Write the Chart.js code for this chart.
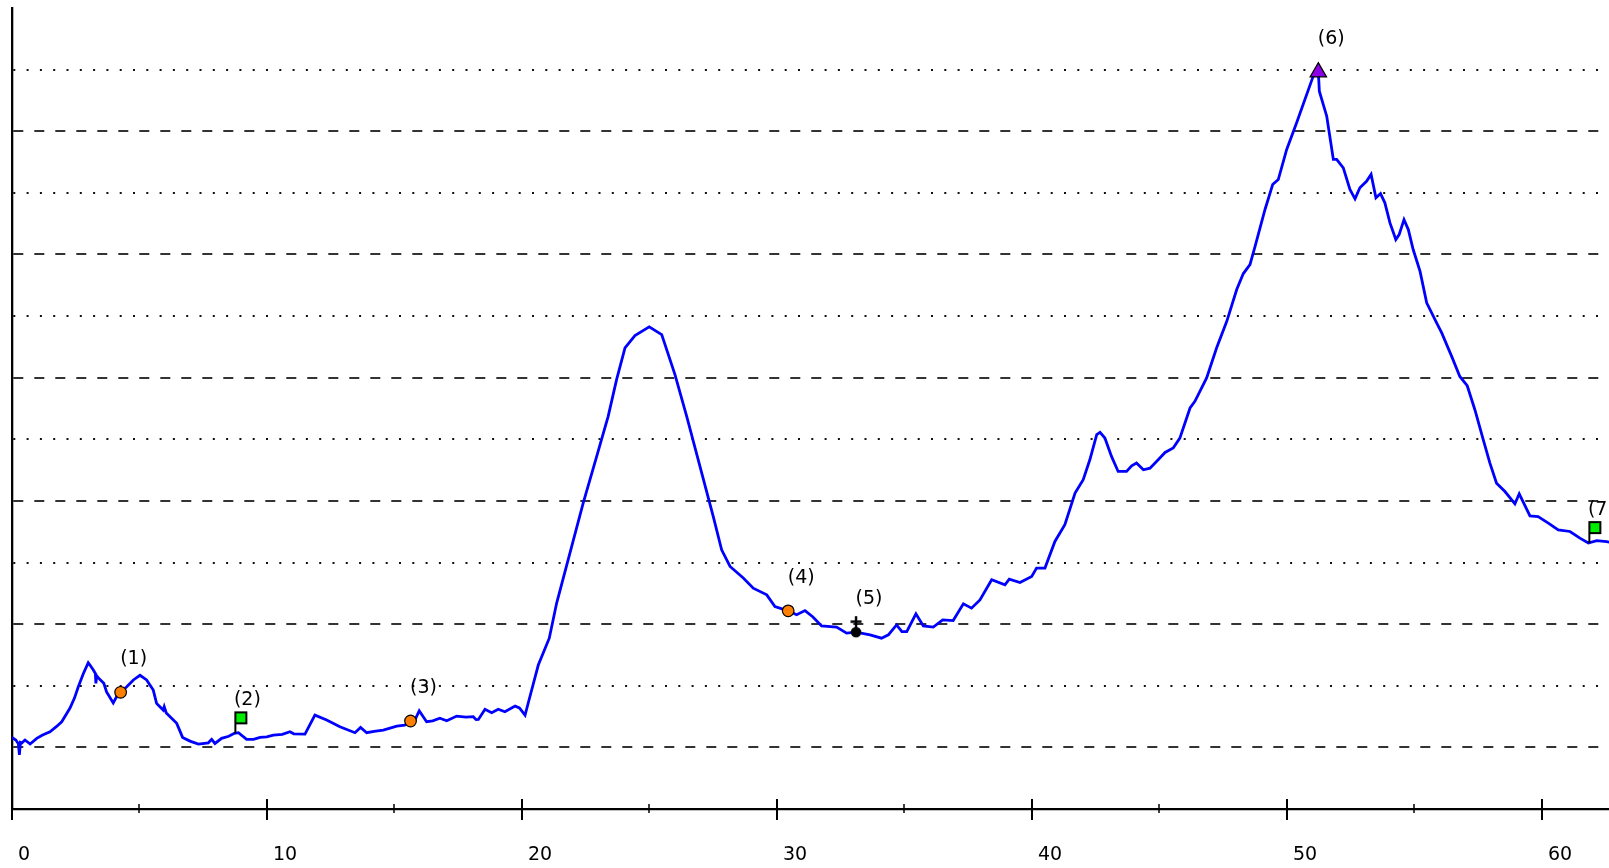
<!DOCTYPE html>
<html>
<head>
<meta charset="utf-8">
<script src="https://cdn.jsdelivr.net/npm/chart.js@4.4.1/dist/chart.umd.min.js"></script>
<style>
  html, body { margin: 0; padding: 0; background: #fff; }
  canvas { display: block; }
</style>
</head>
<body>
<canvas id="profile" width="1609" height="868"></canvas>
<script>
// profile: distance / elevation
const distKm = [
  0.00, 0.15, 0.25, 0.29, 0.33, 0.38, 0.51, 0.71, 0.97, 1.20, 1.49, 1.75, 1.95, 2.27, 2.45, 2.60,
  2.80, 2.99, 3.05, 3.19, 3.27, 3.29, 3.32, 3.45, 3.60, 3.71, 3.97, 4.10, 4.26, 4.50, 4.76, 5.02,
  5.28, 5.54, 5.67, 5.80, 5.93, 5.97, 6.05, 6.46, 6.69, 6.98, 7.31, 7.70, 7.83, 7.96, 8.22, 8.50,
  8.72, 8.88, 9.20, 9.47, 9.73, 9.99, 10.25, 10.60, 10.90, 11.05, 11.49, 11.88, 12.34, 12.86, 13.45, 13.67,
  13.91, 14.20, 14.56, 15.09, 15.40, 15.63, 15.80, 15.97, 16.26, 16.50, 16.78, 17.05, 17.44, 17.80, 18.09, 18.20,
  18.29, 18.55, 18.81, 19.07, 19.33, 19.73, 19.90, 20.12, 20.31, 20.64, 21.07, 21.36, 21.88, 22.40, 22.93, 23.38,
  23.71, 24.04, 24.43, 24.99, 25.48, 26.00, 26.46, 26.98, 27.50, 27.83, 28.16, 28.68, 29.07, 29.60, 29.92, 30.44,
  30.77, 31.10, 31.40, 31.75, 32.34, 32.73, 33.10, 33.65, 34.10, 34.37, 34.69, 34.90, 35.09, 35.45, 35.74, 36.13,
  36.50, 36.91, 37.31, 37.63, 37.96, 38.42, 38.94, 39.11, 39.53, 39.99, 40.18, 40.51, 40.90, 41.29, 41.69, 42.01,
  42.27, 42.54, 42.67, 42.86, 43.12, 43.38, 43.71, 43.91, 44.10, 44.37, 44.63, 44.95, 45.22, 45.54, 45.80, 46.20,
  46.39, 46.85, 47.24, 47.64, 48.03, 48.29, 48.55, 48.75, 49.14, 49.44, 49.66, 49.99, 50.38, 51.03, 51.23, 51.27,
  51.56, 51.82, 51.95, 52.21, 52.47, 52.67, 52.86, 53.12, 53.30, 53.49, 53.67, 53.84, 54.04, 54.27, 54.40, 54.59,
  54.76, 54.95, 55.22, 55.48, 55.87, 56.07, 56.46, 56.78, 57.07, 57.37, 57.70, 57.96, 58.22, 58.55, 58.94, 59.11,
  59.53, 59.85, 60.25, 60.64, 61.10, 61.49, 61.82, 62.15, 62.54, 62.65
];
const elevation = [
  108, 106, 103, 94, 104, 103.5, 106, 102.7, 107.3, 110, 112.7, 117, 120.8, 131.7, 140, 149.2,
  160, 168.7, 167, 162.8, 160, 152, 158, 155, 152, 145, 136, 141, 144.7, 149.2, 154.7, 158.5,
  154.7, 146.5, 135.7, 133, 130.3, 133, 128, 119.5, 108.1, 105.1, 102.7, 103.7, 106.5, 103.2, 107.3, 109,
  111.4, 111.9, 106.5, 106.5, 108.1, 108.6, 110, 110.6, 112.7, 111, 110.8, 126.2, 122.2, 116.7, 111.9, 116.2,
  111.9, 113, 114, 117.3, 118, 121.4, 122.2, 129.7, 120.8, 121.5, 123.6, 121.6, 125.4, 124.5, 124.9, 122.5,
  122.7, 130.9, 128.1, 130.9, 128.9, 133.5, 132, 126.2, 141.1, 166.8, 188.6, 217.1, 257.7, 298.3, 336.1, 368.6,
  398.4, 424.2, 434.2, 441.2, 435, 402.5, 368.6, 328, 287.4, 260.3, 246.8, 237.4, 229.2, 223.8, 214.3, 210.8,
  207.6, 211, 206, 198.6, 197.6, 192.7, 193.5, 191.3, 188.6, 191.3, 199.4, 194, 194, 208.4, 198.6, 197.6,
  203.5, 202.9, 216.5, 213, 219.7, 236, 231.9, 236.5, 233.8, 238.7, 245.5, 245.5, 267.1, 280.7, 306.4, 317.2,
  333.4, 353.8, 355.6, 351, 336.1, 323.9, 323.9, 328.5, 330.7, 325.3, 326.6, 333.4, 339.3, 342.9, 351, 375.4,
  380.8, 399.8, 424.1, 445.7, 471.5, 484.5, 491.8, 506.6, 536.5, 556.8, 560.8, 585.2, 606.9, 644.7, 648.8, 632.5,
  612.2, 577.1, 577.1, 570.3, 552.7, 545.1, 554.1, 559.4, 565, 546, 549.4, 541.9, 525.6, 512.1, 516.1, 528.3,
  520.2, 504, 486.3, 460.7, 444.4, 436.3, 417.3, 401, 393.5, 374, 349.6, 330.7, 314.4, 307.6, 297.6, 305.8,
  287.9, 287.3, 282, 276.5, 275.2, 269.8, 265.8, 267.8, 267, 266.5
];

// waypoints
const markerDist = [4.26, 8.72, 15.63, 30.44, 33.10, 51.23, 61.82];
const markerElev = [144.7, 111.4, 121.4, 210.8, 193.5, 648, 265.8];
const markerLabels = ['(1)', '(2)', '(3)', '(4)', '(5)', '(6)', '(7)'];
const markerKinds = ['circle', 'flag', 'circle', 'circle', 'cross', 'summit', 'flag'];

const FONT = '19px "DejaVu Sans", Verdana, sans-serif';

function makeFlag() {
    const c = document.createElement('canvas');
    c.width = 48; c.height = 48;
    const g = c.getContext('2d');
    g.strokeStyle = '#000';
    g.lineWidth = 2;
    g.beginPath();
    g.moveTo(25, 24);
    g.lineTo(25, 13);
    g.stroke();
    g.fillStyle = '#00ee00';
    g.fillRect(25, 3, 11, 11);
    g.strokeRect(25, 3, 11, 11);
    return c;
}

function makeCross() {
    const c = document.createElement('canvas');
    c.width = 40; c.height = 40;
    const g = c.getContext('2d');
    g.fillStyle = '#000';
    g.beginPath();
    g.arc(20, 20, 5.3, 0, Math.PI * 2);
    g.fill();
    g.strokeStyle = '#000';
    g.lineWidth = 2.4;
    g.beginPath();
    g.moveTo(20, 4); g.lineTo(20, 16);
    g.moveTo(14.5, 9.5); g.lineTo(25.5, 9.5);
    g.stroke();
    return c;
}

const flagImg = makeFlag();
const crossImg = makeCross();

const profile = distKm.map((d, i) => ({ x: d, y: elevation[i] }));
const waypoints = markerDist.map((d, i) => ({ x: d, y: markerElev[i] }));

// x ticks crossing the axis line
const axisTicks = {
    id: 'axisTicks',
    afterDraw(chart) {
        const xs = chart.scales.x;
        const ctx = chart.ctx;
        const base = chart.chartArea.bottom;
        ctx.save();
        ctx.strokeStyle = '#000';
        xs.ticks.forEach(t => {
            const px = Math.round(xs.getPixelForValue(t.value));
            const major = t.value % 10 === 0;
            ctx.lineWidth = major ? 2 : 1.5;
            ctx.beginPath();
            ctx.moveTo(px, base - (major ? 10 : 5));
            ctx.lineTo(px, base + (major ? 11 : 4));
            ctx.stroke();
        });
        ctx.restore();
    }
};

// (n) labels next to waypoints
const waypointLabels = {
    id: 'waypointLabels',
    afterDatasetsDraw(chart) {
        const meta = chart.getDatasetMeta(0);
        const ctx = chart.ctx;
        ctx.save();
        ctx.font = FONT;
        ctx.fillStyle = '#000';
        ctx.textAlign = 'center';
        ctx.textBaseline = 'middle';
        meta.data.forEach((pt, i) => {
            ctx.fillText(markerLabels[i], pt.x + 13, pt.y - 33);
        });
        ctx.restore();
    }
};

new Chart(document.getElementById('profile'), {
    type: 'scatter',
    data: {
        datasets: [
            {
                label: 'waypoints',
                data: waypoints,
                order: 0,
                pointStyle: markerKinds.map(k =>
                    k === 'flag' ? flagImg :
                    k === 'cross' ? crossImg :
                    k === 'summit' ? 'triangle' : 'circle'),
                pointRadius: markerKinds.map(k => k === 'summit' ? 9.5 : 5.8),
                pointBackgroundColor: markerKinds.map(k => k === 'summit' ? '#8c00e6' : '#ff8000'),
                pointBorderColor: '#000',
                pointBorderWidth: 1.2
            },
            {
                label: 'profile',
                data: profile,
                order: 1,
                showLine: true,
                borderColor: '#0000ff',
                borderWidth: 2.8,
                tension: 0,
                pointRadius: 0
            }
        ]
    },
    options: {
        responsive: false,
        animation: false,
        devicePixelRatio: 1,
        layout: { autoPadding: false, padding: { top: 8, left: 0, right: 0, bottom: 0 } },
        plugins: {
            legend: { display: false },
            tooltip: { enabled: false }
        },
        events: [],
        scales: {
            x: {
                type: 'linear',
                min: 0,
                max: 62.63,
                afterFit: s => { s.height = 59; s.paddingLeft = 0; s.paddingRight = 0; },
                grid: { display: false, drawTicks: true, tickLength: 35 },
                border: { display: true, color: '#000', width: 2.3 },
                ticks: {
                    stepSize: 5,
                    includeBounds: false,
                    autoSkip: false,
                    maxRotation: 0,
                    align: 'start',
                    labelOffset: 6,
                    padding: 0,
                    color: '#000',
                    font: { family: '"DejaVu Sans", Verdana, sans-serif', size: 19 },
                    callback: v => (v % 10 === 0 ? String(v) : '')
                }
            },
            y: {
                type: 'linear',
                min: 50,
                max: 700,
                afterFit: s => { s.width = 12; },
                ticks: { display: false, stepSize: 50 },
                grid: {
                    drawTicks: false,
                    lineWidth: 2,
                    color: ctx => {
                        const v = ctx.tick.value;
                        if (v === 50 || v === 700) return 'rgba(0,0,0,0)';
                        return v % 100 === 0 ? '#333' : '#111';
                    }
                },
                border: {
                    display: true,
                    color: '#000',
                    width: 2.3,
                    dash: ctx => (ctx.tick ? (ctx.tick.value % 100 === 0 ? [10, 11] : [2, 11.3]) : [])
                }
            }
        }
    },
    plugins: [axisTicks, waypointLabels]
});
</script>
</body>
</html>
